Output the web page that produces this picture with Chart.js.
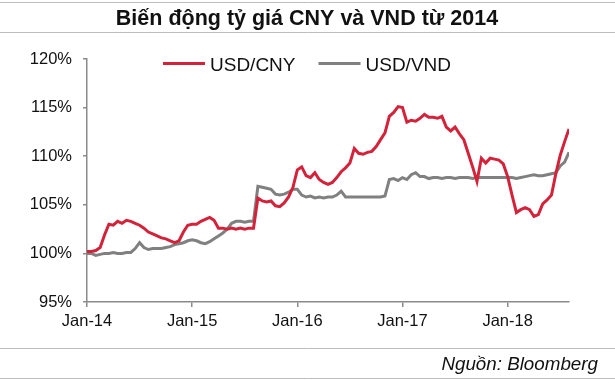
<!DOCTYPE html>
<html><head><meta charset="utf-8">
<script src="https://cdn.jsdelivr.net/npm/chart.js@4"></script>
<style>html,body{margin:0;padding:0;background:#fff}</style>
</head><body>
<canvas id="c" width="615" height="381"></canvas>
<script>
const titleText = 'Biến động tỷ giá CNY và VND từ 2014';
const sourceText = 'Nguồn: Bloomberg';
const seriesNames = ['USD/CNY', 'USD/VND'];
const seriesColors = ['#d2233a', '#808080'];
const tickMonths = [0, 12, 24, 36, 48];
const tickLabels = ['Jan-14', 'Jan-15', 'Jan-16', 'Jan-17', 'Jan-18'];
// months since Jan 2014
const months = [
  0,0.5,1,1.5,2,2.5,3,3.5,4,4.5,
  5,5.5,6,6.5,7,7.5,8,8.5,9,9.5,
  10,10.5,11,11.5,12,12.5,13,13.5,14,14.5,
  15,15.5,16,16.5,17,17.5,18,18.5,19,19.5,
  20,20.5,21,21.5,22,22.5,23,23.5,24,24.5,
  25,25.5,26,26.5,27,27.5,28,28.5,29,29.5,
  30,30.5,31,31.5,32,32.5,33,33.5,34,34.5,
  35,35.5,36,36.5,37,37.5,38,38.5,39,39.5,
  40,40.5,41,41.5,42,42.5,43,43.5,44,44.5,
  45,45.5,46,46.5,47,47.5,48,48.5,49,49.5,
  50,50.5,51,51.5,52,52.5,53,53.5,54,54.5,
  55
];
const usdCny = [
  100.2,100.2,100.3,100.6,101.9,103.0,102.9,103.3,103.1,103.4,
  103.3,103.1,102.9,102.6,102.2,102.0,101.8,101.6,101.5,101.3,
  101.1,101.3,102.2,102.9,103.0,103.0,103.3,103.5,103.7,103.4,
  102.6,102.6,102.5,102.6,102.5,102.6,102.5,102.6,102.6,105.7,
  105.4,105.3,105.4,104.9,104.8,105.2,105.8,106.8,108.6,108.9,
  108.0,107.8,108.3,107.6,107.3,107.1,107.3,107.8,108.4,108.8,
  109.3,110.8,110.3,110.2,110.4,110.5,111.0,111.7,112.4,114.1,
  114.5,115.1,115.0,113.5,113.7,113.6,113.9,114.3,114.0,114.0,
  113.9,114.1,113.0,112.6,113.0,112.3,111.7,110.3,108.9,107.4,
  109.8,109.3,109.8,109.7,109.6,109.2,107.9,106.0,104.2,104.5,
  104.7,104.5,103.8,104.0,105.1,105.5,106.0,108.2,110.1,111.5,
  112.8
];
const usdVnd = [
  100.0,100.0,99.8,99.9,100.0,100.0,100.1,100.0,100.0,100.1,
  100.1,100.5,101.1,100.6,100.4,100.5,100.5,100.5,100.6,100.7,
  100.9,101.0,101.1,101.3,101.4,101.3,101.1,101.0,101.2,101.5,
  101.8,102.1,102.5,103.1,103.3,103.3,103.2,103.3,103.3,106.9,
  106.8,106.7,106.6,106.1,106.0,106.1,106.3,106.6,106.6,106.0,
  105.8,105.9,105.7,105.8,105.7,105.8,105.8,106.0,106.4,105.8,
  105.8,105.8,105.8,105.8,105.8,105.8,105.8,105.8,105.9,107.6,
  107.7,107.5,107.8,107.6,108.1,108.3,107.9,107.9,107.7,107.8,
  107.8,107.7,107.8,107.8,107.7,107.8,107.8,107.8,107.7,107.8,
  107.8,107.8,107.8,107.8,107.8,107.8,107.8,107.8,107.7,107.8,
  107.9,108.0,108.1,108.0,108.0,108.1,108.2,108.3,109.0,109.4,
  110.4
];
const yTicks = [95, 100, 105, 110, 115, 120];

const FONT = '"Liberation Sans", Arial, Helvetica, sans-serif';
const axisColor = '#8a8a8a';
const ruleColor = '#bdbdbd';

const deco = {
  id: 'deco',
  beforeDraw(chart) {
    const ctx = chart.ctx;
    ctx.save();
    ctx.fillStyle = '#fff';
    ctx.fillRect(0, 0, chart.width, chart.height);
    ctx.strokeStyle = ruleColor;
    ctx.lineWidth = 1;
    [2, 32, 348, 378].forEach(y => {
      ctx.beginPath(); ctx.moveTo(0, y + 0.5); ctx.lineTo(chart.width, y + 0.5); ctx.stroke();
    });
    ctx.restore();
  },
  afterDraw(chart) {
    const ctx = chart.ctx;
    ctx.save();
    // title
    ctx.fillStyle = '#111';
    ctx.font = 'bold 21.5px ' + FONT;
    ctx.textAlign = 'center';
    ctx.textBaseline = 'alphabetic';
    ctx.fillText(titleText, 307, 25);
    // legend
    ctx.font = '19px ' + FONT;
    ctx.textAlign = 'left';
    let x = 163;
    chart.data.datasets.forEach((ds, i) => {
      ctx.fillStyle = ds.borderColor;
      ctx.fillRect(x, 62, 42, 3);
      ctx.fillStyle = '#111';
      ctx.fillText(ds.label, x + 47, 71);
      x += 47 + ctx.measureText(ds.label).width + 23;
    });
    // source
    ctx.font = 'italic 18.8px ' + FONT;
    ctx.textAlign = 'right';
    ctx.fillStyle = '#111';
    ctx.fillText(sourceText, 598, 370);
    ctx.restore();
  }
};

const mk = (vals) => months.map((m, i) => ({ x: m, y: vals[i] }));

new Chart(document.getElementById('c'), {
  type: 'line',
  data: {
    datasets: [
      { label: seriesNames[0], data: mk(usdCny), borderColor: seriesColors[0], backgroundColor: seriesColors[0], borderWidth: 3, pointRadius: 0, tension: 0 },
      { label: seriesNames[1], data: mk(usdVnd), borderColor: seriesColors[1], backgroundColor: seriesColors[1], borderWidth: 3, pointRadius: 0, tension: 0 }
    ]
  },
  options: {
    responsive: false,
    animation: false,
    devicePixelRatio: 1,
    layout: { padding: { top: 59, right: 46, bottom: 0, left: 0 } },
    plugins: { legend: { display: false }, tooltip: { enabled: false }, title: { display: false } },
    scales: {
      x: {
        type: 'linear', min: 0, max: 55,
        afterBuildTicks: s => { s.ticks = tickMonths.map(v => ({ value: v })); },
        afterFit: s => { s.height = 79; },
        grid: { drawOnChartArea: false, drawTicks: true, tickLength: 5, color: axisColor, lineWidth: 1.5 },
        border: { color: axisColor, width: 1.5 },
        ticks: { autoSkip: false, maxRotation: 0, padding: 5, color: '#111', font: { family: FONT, size: 16.5 },
          callback: (v) => tickLabels[tickMonths.indexOf(v)] }
      },
      y: {
        min: 95, max: 120,
        afterBuildTicks: s => { s.ticks = yTicks.map(v => ({ value: v })); },
        afterFit: s => { s.width = 87; },
        grid: { drawOnChartArea: false, drawTicks: true, tickLength: 4, color: axisColor, lineWidth: 1.5 },
        border: { color: axisColor, width: 1.5 },
        ticks: { padding: 11, color: '#111', font: { family: FONT, size: 16.5 }, callback: v => v + '%' }
      }
    }
  },
  plugins: [deco]
});
</script>
</body></html>
